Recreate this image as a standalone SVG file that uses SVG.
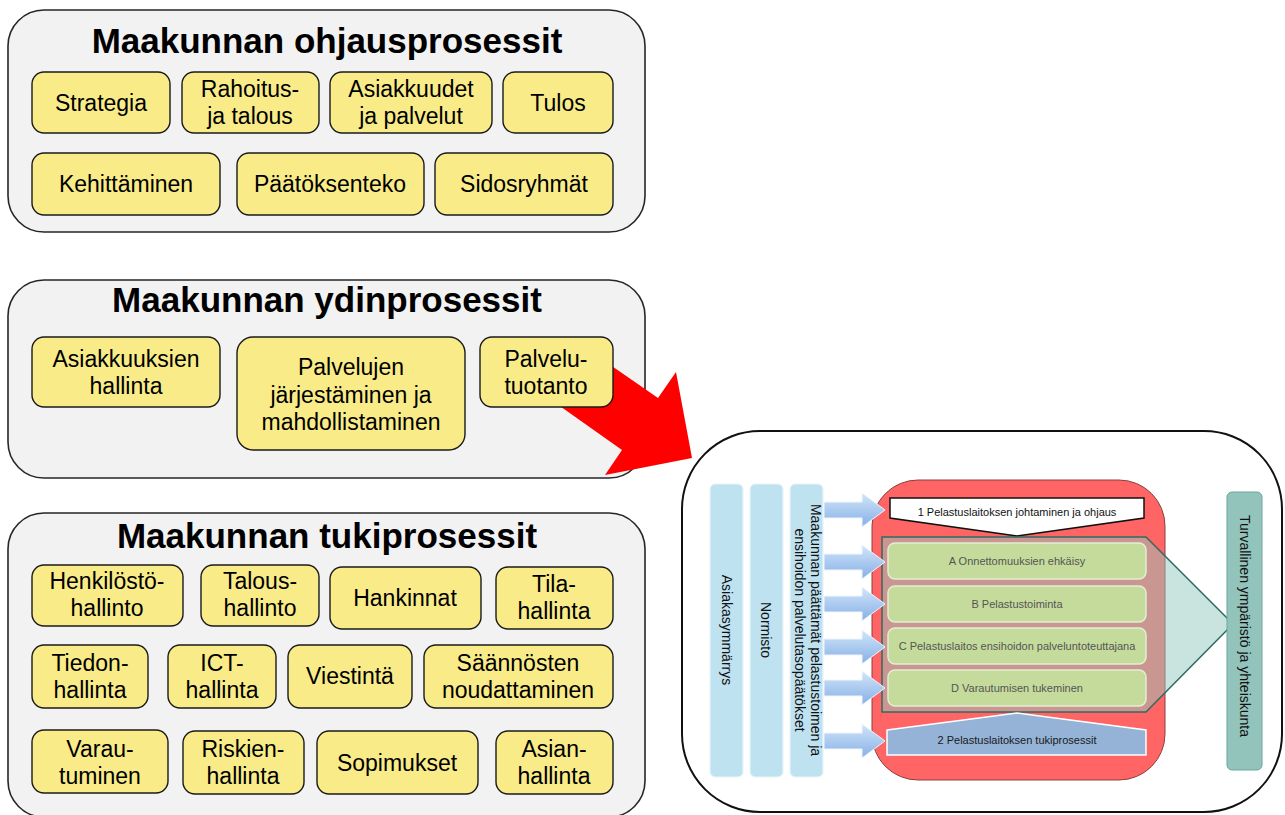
<svg xmlns="http://www.w3.org/2000/svg" width="1285" height="815" viewBox="0 0 1285 815">
<style>
.panel{fill:#f2f2f2;stroke:#262626;stroke-width:1.6}
.box{fill:#f9ec88;stroke:#1a1a1a;stroke-width:1.4}
.title{font-family:"Liberation Sans",Arial,sans-serif;font-weight:bold;font-size:35px;fill:#000;text-anchor:middle}
.lbl{font-family:"Liberation Sans",Arial,sans-serif;font-size:23px;fill:#000;text-anchor:middle}
.sm{font-family:"Liberation Sans",Arial,sans-serif;font-size:11px;text-anchor:middle}
.vt{font-family:"Liberation Sans",Arial,sans-serif;font-size:14px;fill:#111;text-anchor:middle}
.bar{fill:#bfe2f1;stroke:#e8f4f9;stroke-width:1.2}
.gbox{fill:#c5db9c;stroke:#e3eed3;stroke-width:1.5}
.barrow{fill:url(#bg);stroke:#eef5fd;stroke-width:1}
</style>
<defs>
<linearGradient id="bg" x1="0" y1="0" x2="0" y2="1">
<stop offset="0" stop-color="#d2e5f9"/>
<stop offset="1" stop-color="#86b0e6"/>
</linearGradient>
<path id="ba" d="M0,-8 H38 V-17 L61,0 L38,17 V8 H0 Z"/>
</defs>

<g id="panel-ohjaus">
<rect class="panel" x="8" y="10" width="637" height="222" rx="36"/>
<text class="title" x="327" y="53">Maakunnan ohjausprosessit</text>
</g>
<g id="n-strategia"><rect class="box" x="32" y="72" width="138" height="61" rx="12"/><text class="lbl" x="101" y="111">Strategia</text></g>
<g id="n-rahoitus"><rect class="box" x="182" y="72" width="137" height="61" rx="12"/><text class="lbl" x="250" y="97">Rahoitus-</text><text class="lbl" x="250" y="124">ja talous</text></g>
<g id="n-asiakkuudet"><rect class="box" x="330" y="72" width="162" height="61" rx="12"/><text class="lbl" x="411" y="97">Asiakkuudet</text><text class="lbl" x="411" y="124">ja palvelut</text></g>
<g id="n-tulos"><rect class="box" x="503" y="72" width="110" height="61" rx="12"/><text class="lbl" x="558" y="111">Tulos</text></g>
<g id="n-kehittaminen"><rect class="box" x="32" y="153" width="188" height="62" rx="12"/><text class="lbl" x="126" y="192">Kehittäminen</text></g>
<g id="n-paatoksenteko"><rect class="box" x="237" y="153" width="187" height="62" rx="12"/><text class="lbl" x="330" y="192">Päätöksenteko</text></g>
<g id="n-sidosryhmat"><rect class="box" x="435" y="153" width="178" height="62" rx="12"/><text class="lbl" x="524" y="192">Sidosryhmät</text></g>

<g id="panel-ydin">
<rect class="panel" x="8" y="280" width="637" height="198" rx="36"/>
<text class="title" x="327" y="312">Maakunnan ydinprosessit</text>
</g>

<g id="connectors">
<polygon points="580,344 658,398 676,372 692,458 605,475 622,450 540,392" fill="#ff0000"/>
</g>

<g id="n-asiakkuuksien"><rect class="box" x="32" y="337" width="188" height="70" rx="12"/><text class="lbl" x="126" y="367">Asiakkuuksien</text><text class="lbl" x="126" y="394">hallinta</text></g>
<g id="n-palvelujen"><rect class="box" x="237" y="337" width="228" height="113" rx="16"/><text class="lbl" x="351" y="375">Palvelujen</text><text class="lbl" x="351" y="403">järjestäminen ja</text><text class="lbl" x="351" y="430">mahdollistaminen</text></g>
<g id="n-palvelutuotanto"><rect class="box" x="480" y="337" width="133" height="70" rx="12"/><text class="lbl" x="546" y="367">Palvelu-</text><text class="lbl" x="546" y="394">tuotanto</text></g>

<g id="panel-tuki">
<rect class="panel" x="8" y="513" width="637" height="304" rx="36"/>
<text class="title" x="327" y="548">Maakunnan tukiprosessit</text>
</g>
<g id="n-henkilosto"><rect class="box" x="32" y="565" width="151" height="61" rx="12"/><text class="lbl" x="107" y="589">Henkilöstö-</text><text class="lbl" x="107" y="616">hallinto</text></g>
<g id="n-talous"><rect class="box" x="201" y="565" width="118" height="61" rx="12"/><text class="lbl" x="260" y="589">Talous-</text><text class="lbl" x="260" y="616">hallinto</text></g>
<g id="n-hankinnat"><rect class="box" x="330" y="567" width="151" height="62" rx="12"/><text class="lbl" x="405" y="606">Hankinnat</text></g>
<g id="n-tila"><rect class="box" x="496" y="567" width="117" height="62" rx="12"/><text class="lbl" x="554" y="592">Tila-</text><text class="lbl" x="554" y="619">hallinta</text></g>
<g id="n-tiedon"><rect class="box" x="32" y="645" width="116" height="63" rx="12"/><text class="lbl" x="90" y="671">Tiedon-</text><text class="lbl" x="90" y="698">hallinta</text></g>
<g id="n-ict"><rect class="box" x="168" y="645" width="108" height="63" rx="12"/><text class="lbl" x="222" y="671">ICT-</text><text class="lbl" x="222" y="698">hallinta</text></g>
<g id="n-viestinta"><rect class="box" x="288" y="645" width="124" height="63" rx="12"/><text class="lbl" x="350" y="684">Viestintä</text></g>
<g id="n-saannosten"><rect class="box" x="424" y="645" width="189" height="63" rx="12"/><text class="lbl" x="518" y="671">Säännösten</text><text class="lbl" x="518" y="698">noudattaminen</text></g>
<g id="n-varautuminen"><rect class="box" x="32" y="730" width="136" height="63" rx="12"/><text class="lbl" x="100" y="757">Varau-</text><text class="lbl" x="100" y="784">tuminen</text></g>
<g id="n-riskien"><rect class="box" x="183" y="731" width="121" height="63" rx="12"/><text class="lbl" x="243" y="757">Riskien-</text><text class="lbl" x="243" y="784">hallinta</text></g>
<g id="n-sopimukset"><rect class="box" x="317" y="731" width="161" height="63" rx="12"/><text class="lbl" x="397" y="771">Sopimukset</text></g>
<g id="n-asian"><rect class="box" x="496" y="731" width="117" height="63" rx="12"/><text class="lbl" x="554" y="757">Asian-</text><text class="lbl" x="554" y="784">hallinta</text></g>

<g id="panel-pelastus">
<rect x="682" y="431" width="600" height="381" rx="78" fill="#ffffff" stroke="#111" stroke-width="2"/>
</g>
<g id="n-asiakasymmarrys"><rect class="bar" x="710" y="484" width="33" height="293" rx="5"/><text class="vt" transform="translate(722,630) rotate(90)">Asiakasymmärrys</text></g>
<g id="n-normisto"><rect class="bar" x="750" y="484" width="33" height="293" rx="5"/><text class="vt" transform="translate(761,630) rotate(90)">Normisto</text></g>
<g id="n-maakunnan"><rect class="bar" x="790" y="484" width="33" height="293" rx="5"/><text class="vt" transform="translate(811,630) rotate(90)"><tspan x="0" y="0">Maakunnan päättämät pelastustoimen ja</tspan><tspan x="0" y="16">ensihoidon palvelutasopäätökset</tspan></text></g>

<g id="n-pelastuslaitos">
<rect x="872" y="480" width="293" height="300" rx="46" fill="#ff6565" stroke="#8c4040" stroke-width="1"/>
</g>
<g id="n-johtaminen">
<polygon points="890,498 1144,498 1144,518 1017,536 890,518" fill="#ffffff" stroke="#111" stroke-width="1.5"/>
<text class="sm" x="1017" y="516" fill="#111">1 Pelastuslaitoksen johtaminen ja ohjaus</text>
</g>
<g id="n-ydin">
<polygon points="882,537 1146,537 1233,624 1146,712 882,712" fill="#93c7bd" fill-opacity="0.5" stroke="#2f6b60" stroke-width="1.5"/>
</g>
<g id="n-a"><rect class="gbox" x="888" y="543" width="258" height="36" rx="7"/><text class="sm" x="1017" y="565" fill="#555">A Onnettomuuksien ehkäisy</text></g>
<g id="n-b"><rect class="gbox" x="888" y="586" width="258" height="36" rx="7"/><text class="sm" x="1017" y="608" fill="#555">B Pelastustoiminta</text></g>
<g id="n-c"><rect class="gbox" x="888" y="628" width="258" height="36" rx="7"/><text class="sm" x="1017" y="650" fill="#555">C Pelastuslaitos ensihoidon palveluntoteuttajana</text></g>
<g id="n-d"><rect class="gbox" x="888" y="670" width="258" height="36" rx="7"/><text class="sm" x="1017" y="692" fill="#555">D Varautumisen tukeminen</text></g>
<g id="n-tuki">
<polygon points="887,730 1017,713 1146,730 1146,755 887,755" fill="#95b3d7" stroke="#ffffff" stroke-width="1.5"/>
<text class="sm" x="1017" y="744" fill="#1a1a1a">2 Pelastuslaitoksen tukiprosessit</text>
</g>
<g id="n-turvallinen"><rect x="1227" y="492" width="35" height="278" rx="5" fill="#93c4bc" stroke="#6aa69c" stroke-width="1"/><text class="vt" transform="translate(1240,626) rotate(90)">Turvallinen ympäristö ja yhteiskunta</text></g>

<g id="arrows">
<use href="#ba" class="barrow" x="824" y="510"/>
<use href="#ba" class="barrow" x="824" y="562"/>
<use href="#ba" class="barrow" x="824" y="604"/>
<use href="#ba" class="barrow" x="824" y="647"/>
<use href="#ba" class="barrow" x="824" y="688"/>
<use href="#ba" class="barrow" x="824" y="741"/>
</g>
</svg>
